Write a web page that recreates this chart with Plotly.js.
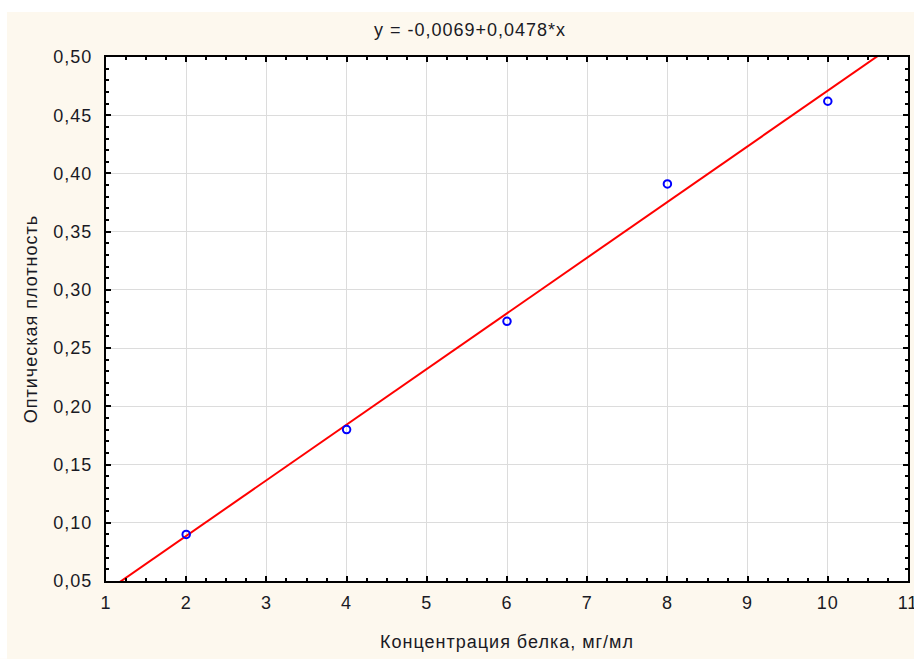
<!DOCTYPE html>
<html>
<head>
<meta charset="utf-8">
<script src="https://cdn.plot.ly/plotly-3.0.1.min.js"></script>
<style>
html,body{margin:0;padding:0;background:#fff;}
#chart{width:914px;height:659px;}
#chart svg text{letter-spacing:1px;}
</style>
</head>
<body>
<div id="chart"></div>
<script>
// Data
const concentration = [2, 4, 6, 8, 10];
const opticalDensity = [0.090, 0.180, 0.273, 0.391, 0.462];
// Fitted line y = -0.0069 + 0.0478*x, evaluated at the axis ends
const fitX = [1, 11];
const fitY = [0.0409, 0.5189];
const chartTitle = 'y = -0,0069+0,0478*x';
const xTitle = 'Концентрация белка, мг/мл';
const yTitle = 'Оптическая плотность';
const xTicks = [1, 2, 3, 4, 5, 6, 7, 8, 9, 10, 11];
const yTicks = [0.05, 0.10, 0.15, 0.20, 0.25, 0.30, 0.35, 0.40, 0.45, 0.50];

const font = 'Arial, "Liberation Sans", sans-serif';
const cream = '#fdf8ee';

const traces = [
  {
    x: fitX, y: fitY, mode: 'lines', type: 'scatter',
    line: {color: '#ff0000', width: 2}, hoverinfo: 'skip', showlegend: false
  },
  {
    x: concentration, y: opticalDensity, mode: 'markers', type: 'scatter',
    marker: {symbol: 'circle-open', size: 7.5, color: '#0000ff', line: {width: 2, color: '#0000ff'}},
    showlegend: false, cliponaxis: false
  }
];

const layout = {
  width: 914, height: 659,
  paper_bgcolor: cream, plot_bgcolor: '#ffffff',
  separators: ', ',
  margin: {l: 106, r: 6, t: 57, b: 78, pad: 0},
  font: {family: font, size: 18, color: '#1a1a24'},
  showlegend: false,
  xaxis: {
    range: [1, 11], tickvals: xTicks, ticktext: xTicks.map(String),
    showgrid: true, gridcolor: '#dcdcdc', gridwidth: 1,
    zeroline: false, showline: true, linecolor: '#000', linewidth: 2, mirror: 'ticks',
    ticks: 'inside', ticklen: 5, tickwidth: 2, tickcolor: '#000',
    minor: {dtick: 0.25, ticks: 'inside', ticklen: 3, tickwidth: 2, tickcolor: '#000', showgrid: false},
    tickfont: {size: 18}, ticklabelstandoff: 4, ticklabeloverflow: 'allow',
    title: {text: xTitle, font: {size: 18}, standoff: 24}
  },
  yaxis: {
    range: [0.05, 0.50], tickvals: yTicks, tickformat: '.2f',
    showgrid: true, gridcolor: '#dcdcdc', gridwidth: 1,
    zeroline: false, showline: true, linecolor: '#000', linewidth: 2, mirror: 'ticks',
    ticks: 'inside', ticklen: 5, tickwidth: 2, tickcolor: '#000',
    minor: {dtick: 0.01, ticks: 'inside', ticklen: 3, tickwidth: 2, tickcolor: '#000', showgrid: false},
    tickfont: {size: 18}, ticklabelstandoff: 8,
    title: {text: yTitle, font: {size: 18}, standoff: 15}
  },
  title: {text: chartTitle, font: {size: 18}, x: 470 / 914, xref: 'container', xanchor: 'center', y: 1 - 30 / 659, yref: 'container', yanchor: 'middle'},
  shapes: [
    {type: 'rect', xref: 'paper', yref: 'paper', x0: -106/802, x1: 808/802, y0: 1 + 45/525, y1: 1 + 57/525, fillcolor: '#ffffff', line: {width: 0}, layer: 'below'},
    {type: 'rect', xref: 'paper', yref: 'paper', x0: -106/802, x1: -99/802, y0: -78/525, y1: 1 + 57/525, fillcolor: '#ffffff', line: {width: 0}, layer: 'below'}
  ]
};

Plotly.newPlot('chart', traces, layout, {displayModeBar: false, staticPlot: true});
</script>
</body>
</html>
